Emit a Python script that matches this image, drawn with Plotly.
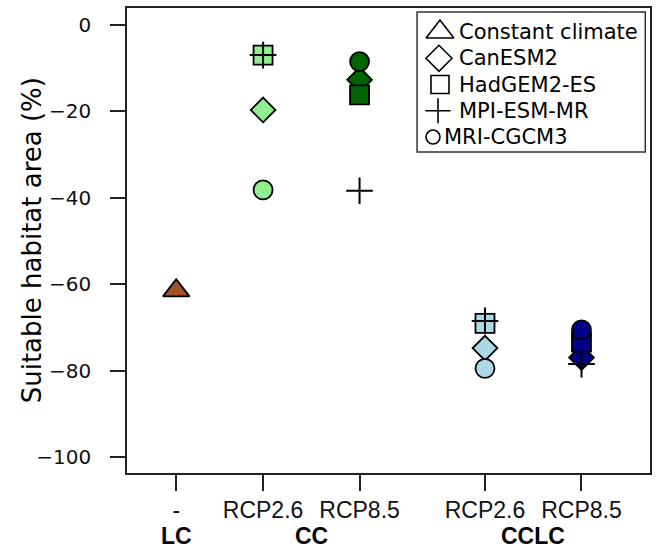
import plotly.graph_objects as go

# ---- data ----
positions = [1, 1.9, 2.9, 4.2, 5.2]
scenario_labels = ["-", "RCP2.6", "RCP8.5", "RCP2.6", "RCP8.5"]
scenario_colors = ["#A0522D", "#90EE90", "#006400", "#ADD8E6", "#00008B"]
group_labels = ["LC", "CC", "CCLC"]
group_centers = [1, 2.4, 4.7]

constant_climate = [-61.5, None, None, None, None]
canesm2 = [None, -19.7, -12.7, -74.8, -77.0]
hadgem2 = [None, -7.0, -16.2, -69.1, -73.4]
mpi_esm = [None, -7.0, -38.4, -68.5, -78.5]
mri_cgcm3 = [None, -38.2, -8.5, -79.5, -70.6]

model_names = ["Constant climate", "CanESM2", "HadGEM2-ES", "MPI-ESM-MR", "MRI-CGCM3"]
series = [constant_climate, canesm2, hadgem2, mpi_esm, mri_cgcm3]
symbols = ["triangle-up", "diamond", "square", "cross-thin", "circle"]
sizes = [23, 19, 19, 19, 19]
legend_sizes = [24, 20, 18, 18, 14]
legend_marker_x = [23, 22, 23, 21, 16]
legend_text_x = [40, 40, 40, 40, 25]

fig = go.Figure()

for name, vals, sym, sz in zip(model_names, series, symbols, sizes):
    xs = [p for p, v in zip(positions, vals) if v is not None]
    ys = [v for v in vals if v is not None]
    cs = [c for c, v in zip(scenario_colors, vals) if v is not None]
    if sym == "cross-thin":
        marker = dict(symbol=sym, size=sz, color="black",
                      line=dict(color="black", width=2))
    else:
        marker = dict(symbol=sym, size=sz, color=cs,
                      line=dict(color="black", width=1.8))
    fig.add_trace(go.Scatter(x=xs, y=ys, mode="markers", name=name,
                             marker=marker, showlegend=False,
                             xaxis="x", yaxis="y"))

# ---- custom legend (drawn on an overlay axis) ----
rows = list(range(len(model_names)))
for i, (name, sym) in enumerate(zip(model_names, symbols)):
    fig.add_trace(go.Scatter(
        x=[legend_marker_x[i]], y=[rows[i]], mode="markers",
        marker=dict(symbol=sym, size=legend_sizes[i], color="white",
                    line=dict(color="black", width=1.6)),
        showlegend=False, xaxis="x2", yaxis="y2", hoverinfo="skip"))
    fig.add_annotation(x=legend_text_x[i], y=rows[i], xref="x2", yref="y2",
                       text=name, showarrow=False, xanchor="left",
                       yanchor="middle",
                       font=dict(family="DejaVu Sans", size=21, color="black"))

# legend box
fig.add_shape(type="rect", xref="paper", yref="paper",
              x0=0.5546, x1=0.9910, y0=0.6903, y1=0.9914,
              line=dict(color="#333333", width=1.5), fillcolor="rgba(0,0,0,0)")

# group labels
for g, c in zip(group_labels, group_centers):
    fig.add_annotation(x=c, y=0, xref="x", yref="paper", text="<b>%s</b>" % g,
                       showarrow=False, yanchor="middle", yshift=-63,
                       font=dict(family="Liberation Sans", size=23, color="black"))

# y title
fig.add_annotation(x=-0.182, y=0.5, xref="paper", yref="paper",
                   text="Suitable habitat area (%)", textangle=-90,
                   showarrow=False, xanchor="center", yanchor="middle",
                   font=dict(family="DejaVu Sans", size=26, color="black"))

fig.update_layout(
    width=656, height=551,
    margin=dict(l=127, r=4, t=8, b=78),
    plot_bgcolor="white", paper_bgcolor="white",
    xaxis=dict(range=[0.49, 5.91], tickmode="array", tickvals=positions,
               ticktext=scenario_labels, showgrid=False, zeroline=False,
               showline=True, mirror=True, linecolor="#222222", linewidth=1.5,
               ticks="outside", ticklen=16, tickwidth=1.5, tickcolor="#222222",
               ticklabelstandoff=0,
               tickfont=dict(family="Liberation Sans", size=23, color="#111111")),
    yaxis=dict(range=[-103.7, 3.9], tickmode="linear", tick0=0, dtick=20,
               showgrid=False, zeroline=False,
               showline=True, mirror=True, linecolor="#222222", linewidth=1.5,
               ticks="outside", ticklen=15, tickwidth=1.5, tickcolor="#222222",
               ticklabelstandoff=15,
               tickfont=dict(family="DejaVu Sans", size=20, color="#111111")),
    xaxis2=dict(domain=[0.5546, 0.9910], range=[0, 229], visible=False,
                anchor="y2", fixedrange=True),
    yaxis2=dict(domain=[0.6903, 0.9914], range=[4.571, -0.762], visible=False,
                anchor="x2", fixedrange=True),
)

fig.write_html("out.html", config={"displayModeBar": False},
               post_script="document.body.style.margin='0';"
                           "document.body.style.padding='0';"
                           "document.body.style.overflow='hidden';")
